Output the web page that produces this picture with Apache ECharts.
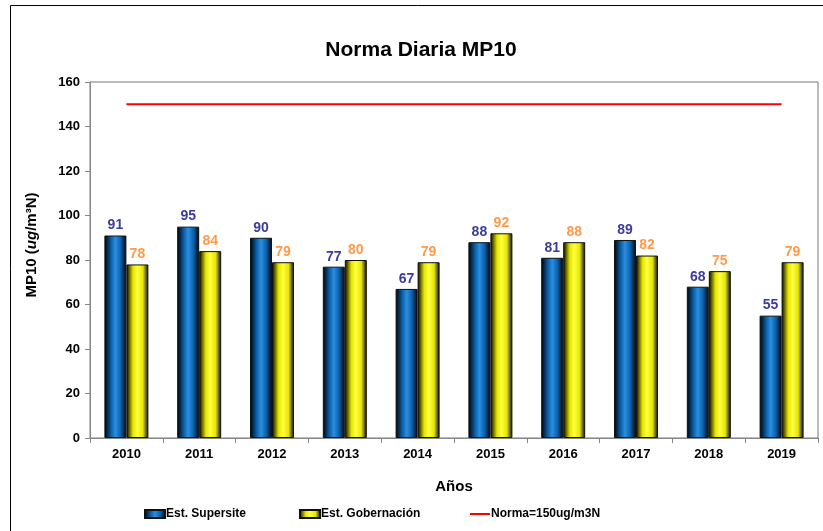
<!DOCTYPE html>
<html>
<head>
<meta charset="utf-8">
<script src="https://cdn.jsdelivr.net/npm/echarts@6/dist/echarts.min.js"></script>
<style>
  html, body { margin: 0; padding: 0; background: #fff; }
  #main { width: 823px; height: 531px; }
</style>
</head>
<body>
<div id="main"></div>
<script>
// datos
var years = ["2010", "2011", "2012", "2013", "2014", "2015", "2016", "2017", "2018", "2019"];
var supersite = [91, 95, 90, 77, 67, 88, 81, 89, 68, 55];
var gobernacion = [78, 84, 79, 80, 79, 92, 88, 82, 75, 79];
var norma = [150, 150, 150, 150, 150, 150, 150, 150, 150, 150];

var font = "Liberation Sans, Arial, sans-serif";

function cyl(mid, light) {
  return new echarts.graphic.LinearGradient(0, 0, 1, 0, [
    { offset: 0, color: "#000" },
    { offset: 0.3, color: mid },
    { offset: 0.5, color: light },
    { offset: 0.75, color: mid },
    { offset: 1, color: "#000" }
  ]);
}

var legendText = { fontSize: 12, fontWeight: "bold", color: "#000", fontFamily: font, padding: [0, 0, 0, -4] };

var chart = echarts.init(document.getElementById("main"));
chart.setOption({
  animation: false,
  textStyle: { fontFamily: font },
  title: {
    text: "Norma Diaria MP10",
    left: 416, textAlign: "center",
    top: 35,
    textStyle: { fontSize: 21, fontWeight: "bold", color: "#000", fontFamily: font }
  },
  graphic: [
    {
      type: "rect",
      shape: { x: 10.5, y: 5.5, width: 830, height: 540 },
      style: { fill: "none", stroke: "#000", lineWidth: 1 },
      silent: true
    },
    {
      // titulo del eje Y
      type: "text",
      x: 32, y: 245,
      rotation: Math.PI / 2,
      silent: true,
      style: {
        text: "MP10 ({i|ug}/m³N)",
        align: "center", verticalAlign: "middle",
        font: "bold 15px " + font,
        fill: "#000",
        rich: { i: { fontSize: 15, fontWeight: "bold", fontStyle: "italic", fill: "#000", fontFamily: font } }
      }
    }
  ],
  legend: [
    { data: [{ name: "Est. Supersite", icon: "rect" }], left: 139, top: 503, itemWidth: 20, itemHeight: 8 },
    { data: [{ name: "Est. Gobernación", icon: "rect" }], left: 294, top: 503, itemWidth: 20, itemHeight: 8 },
    { data: [{ name: "Norma=150ug/m3N", icon: "rect" }], left: 465, top: 503, itemWidth: 20, itemHeight: 2 }
  ].map(function (l) {
    l.itemGap = 2;
    l.textStyle = legendText;
    return l;
  }),
  grid: {
    left: 90, right: 5, top: 82, bottom: 93,
    show: true, borderColor: "#777", borderWidth: 1
  },
  xAxis: {
    type: "category",
    data: years,
    name: "Años",
    nameLocation: "middle",
    nameGap: 41,
    nameTextStyle: { fontSize: 15, fontWeight: "bold", color: "#000" },
    axisLine: { lineStyle: { color: "#888" } },
    axisTick: { show: true, lineStyle: { color: "#888" } },
    axisLabel: { fontSize: 13, fontWeight: "bold", color: "#000", margin: 10 }
  },
  yAxis: {
    type: "value",
    min: 0, max: 160, interval: 20,
    axisLine: { show: true, lineStyle: { color: "#888" } },
    axisTick: { show: true, lineStyle: { color: "#888" } },
    splitLine: { show: false },
    axisLabel: { fontSize: 13, fontWeight: "bold", color: "#000", margin: 10 }
  },
  series: [
    {
      name: "Est. Supersite",
      type: "bar",
      data: supersite,
      barWidth: 22,
      barGap: "0%",
      itemStyle: { color: cyl("#0a5fa8", "#2a8ee0"), borderColor: "#111", borderWidth: 1 },
      label: { show: true, position: "top", distance: 3, fontSize: 14, fontWeight: "bold", color: "#3b3ba0" }
    },
    {
      name: "Est. Gobernación",
      type: "bar",
      data: gobernacion,
      barWidth: 22,
      itemStyle: { color: cyl("#e6e600", "#ffff40"), borderColor: "#111", borderWidth: 1 },
      label: { show: true, position: "top", distance: 3, fontSize: 14, fontWeight: "bold", color: "#ff9a4a" }
    },
    {
      name: "Norma=150ug/m3N",
      type: "line",
      data: norma,
      symbol: "none",
      lineStyle: { color: "#ff0000", width: 2 },
      itemStyle: { color: "#ff0000" }
    }
  ]
});
</script>
</body>
</html>
